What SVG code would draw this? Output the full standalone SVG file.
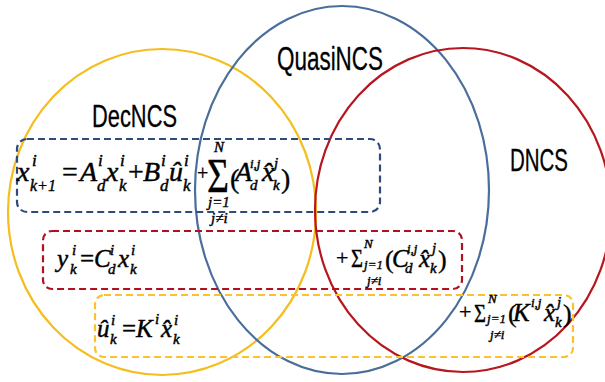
<svg xmlns="http://www.w3.org/2000/svg" width="605" height="382" viewBox="0 0 605 382">
<style>
.ell{fill:none;stroke-width:2.2}
.box{fill:none;stroke-width:2.2;stroke-dasharray:7 4}
.lbl{font-family:"Liberation Sans",Arial,sans-serif;fill:#000;stroke:#000;stroke-width:0.3}
.m{font-family:"Liberation Serif","Times New Roman",serif;font-style:italic;fill:#000;stroke:#000;stroke-width:0.45}
.u{font-family:"Liberation Serif","Times New Roman",serif;fill:#000;stroke:#000;stroke-width:0.35}
.L1{font-size:28px}.S1{font-size:17px}
.L2{font-size:25px}.S2{font-size:15px}
.S3{font-size:13px}
</style>
<rect width="605" height="382" fill="#fff"/>
<g id="decncs">
<ellipse class="ell" cx="162" cy="212" rx="154" ry="163" stroke="#F5BE1E"/>
<text class="lbl" x="92" y="127" font-size="32" textLength="85" lengthAdjust="spacingAndGlyphs">DecNCS</text>
</g>
<g id="quasincs">
<ellipse class="ell" cx="342" cy="190" rx="147" ry="184" stroke="#4A6E9A"/>
<text class="lbl" x="277" y="70" font-size="33" textLength="106" lengthAdjust="spacingAndGlyphs">QuasiNCS</text>
</g>
<g id="dncs">
<ellipse class="ell" cx="463" cy="210" rx="148" ry="162" stroke="#B8161E"/>
<text class="lbl" x="510" y="171" font-size="31" textLength="58" lengthAdjust="spacingAndGlyphs">DNCS</text>
</g>
<g id="eq-state">
<rect class="box" x="17" y="139" width="363" height="73" rx="10" stroke="#2F4B7C"/>
<text class="m L1" x="17" y="181">x</text>
<text class="m S1" x="32" y="166">i</text>
<text class="m" x="30" y="191" font-size="16">k<tspan class="u">+1</tspan></text>
<text class="u L1" x="62" y="181">=</text>
<text class="m L1" x="80" y="181">A</text>
<text class="m S1" x="98" y="166">i</text>
<text class="m S1" x="97" y="191">d</text>
<text class="m L1" x="106" y="181">x</text>
<text class="m S1" x="120" y="166">i</text>
<text class="m S1" x="119" y="191">k</text>
<text class="u L1" x="128" y="181">+</text>
<text class="m L1" x="143" y="181">B</text>
<text class="m S1" x="161" y="166">i</text>
<text class="m S1" x="160" y="191">d</text>
<text class="m L1" x="169" y="181">û</text>
<text class="m S1" x="184" y="166">i</text>
<text class="m S1" x="183" y="191">k</text>
<text class="u" x="197" y="180" font-size="20">+</text>
<text class="u" x="207" y="192" font-size="48" textLength="22" lengthAdjust="spacingAndGlyphs">Σ</text>
<text class="m S2" x="214" y="152">N</text>
<text class="m S2" x="208" y="207">j<tspan class="u">=1</tspan></text>
<text class="m S2" x="211" y="223">j<tspan class="u">≠</tspan>i</text>
<text class="u" x="230" y="188" font-size="28">(</text>
<text class="m L1" x="235" y="181">A</text>
<text class="m S3" x="250" y="168">i,j</text>
<text class="m S2" x="250" y="190">d</text>
<text class="m L1" x="262" y="181">x̂</text>
<text class="m S2" x="274" y="168">j</text>
<text class="m S2" x="273" y="190">k</text>
<text class="u" x="281" y="188" font-size="28">)</text>
</g>
<g id="eq-output">
<rect class="box" x="43" y="231" width="419" height="58" rx="9" stroke="#B01020"/>
<text class="m L2" x="57" y="267">y</text>
<text class="m S2" x="72" y="255">i</text>
<text class="m S2" x="70" y="274">k</text>
<text class="u L2" x="80" y="267">=</text>
<text class="m L2" x="94" y="267">C</text>
<text class="m S2" x="110" y="255">i</text>
<text class="m S2" x="108" y="274">d</text>
<text class="m L2" x="118" y="267">x</text>
<text class="m S2" x="131" y="255">i</text>
<text class="m S2" x="130" y="274">k</text>
<text class="u" x="336" y="265" font-size="22">+</text>
<text class="u" x="351" y="267" font-size="26" textLength="12" lengthAdjust="spacingAndGlyphs">Σ</text>
<text class="m S3" x="364" y="248">N</text>
<text class="m S3" x="364" y="269">j<tspan class="u">=1</tspan></text>
<text class="m S3" x="367" y="285">j<tspan class="u">≠</tspan>i</text>
<text class="u" x="385" y="268" font-size="26">(</text>
<text class="m L2" x="392" y="267">C</text>
<text class="m S3" x="407" y="253">i,j</text>
<text class="m S2" x="405" y="273">d</text>
<text class="m L2" x="419" y="267">x̂</text>
<text class="m S2" x="432" y="253">j</text>
<text class="m S2" x="430" y="273">k</text>
<text class="u" x="438" y="268" font-size="26">)</text>
</g>
<g id="eq-control">
<rect class="box" x="95" y="295" width="478" height="62" rx="9" stroke="#F9C22E"/>
<text class="m L2" x="97" y="337">û</text>
<text class="m S2" x="111" y="325">i</text>
<text class="m S2" x="110" y="344">k</text>
<text class="u L2" x="122" y="337">=</text>
<text class="m L2" x="136" y="337">K</text>
<text class="m S2" x="155" y="324">i</text>
<text class="m L2" x="161" y="337">x̂</text>
<text class="m S2" x="174" y="325">i</text>
<text class="m S2" x="173" y="344">k</text>
<text class="u" x="459" y="319" font-size="22">+</text>
<text class="u" x="474" y="322" font-size="26" textLength="12" lengthAdjust="spacingAndGlyphs">Σ</text>
<text class="m S3" x="488" y="303">N</text>
<text class="m S3" x="487" y="323">j<tspan class="u">=1</tspan></text>
<text class="m S3" x="490" y="339">j<tspan class="u">≠</tspan>i</text>
<text class="u" x="508" y="322" font-size="26">(</text>
<text class="m L2" x="513" y="321">K</text>
<text class="m S3" x="531" y="307">i,j</text>
<text class="m L2" x="544" y="321">x̂</text>
<text class="m S2" x="557" y="307">j</text>
<text class="m S2" x="555" y="327">k</text>
<text class="u" x="563" y="322" font-size="26">)</text>
</g>
<g id="connectors"></g>
</svg>
